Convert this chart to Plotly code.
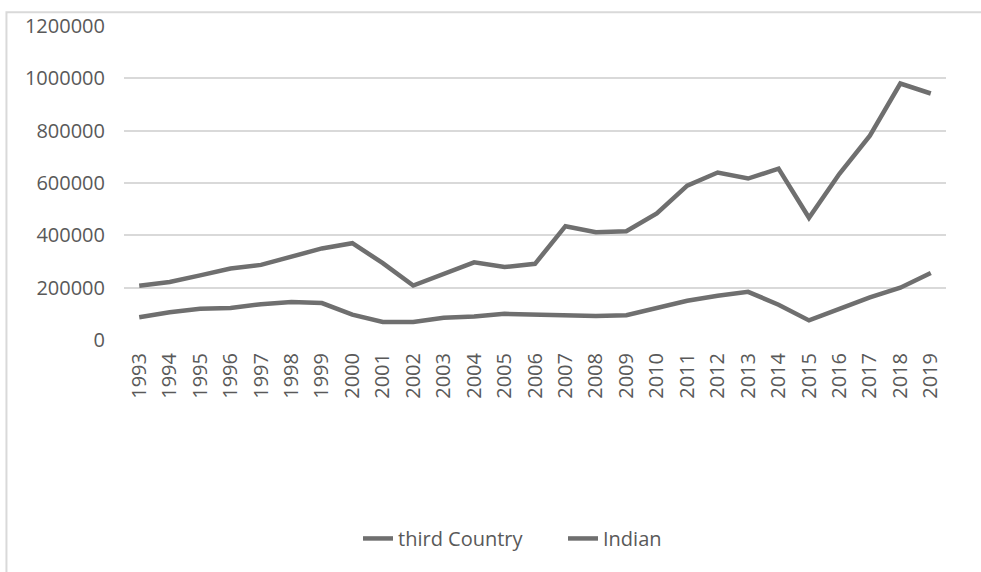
import plotly.graph_objects as go

years = [str(y) for y in range(1993, 2020)]
third_country = [207000, 222000, 247000, 273000, 287000, 319000, 350000, 370000, 294000, 208000,
                 252000, 297000, 279000, 291000, 435000, 412000, 416000, 484000, 590000, 640000,
                 617000, 655000, 467000, 635000, 781000, 980000, 942000]
indian = [87000, 106000, 119000, 122000, 137000, 145000, 141000, 97000, 69000, 69000,
          85000, 90000, 100000, 96000, 96000, 92000, 95000, 122000, 150000, 169000,
          184000, 135000, 75000, 119000, 163000, 200000, 256000]
y_ticks = [0, 200000, 400000, 600000, 800000, 1000000, 1200000]

line_color = "#6f6f6f"
text_color = "#595959"
font_family = "Open Sans"

fig = go.Figure()
fig.add_trace(go.Scatter(x=years, y=third_country, name="third Country", mode="lines",
                         line=dict(color=line_color, width=4.5)))
fig.add_trace(go.Scatter(x=years, y=indian, name="Indian", mode="lines",
                         line=dict(color=line_color, width=4.5)))

fig.update_layout(
    width=981, height=572,
    margin=dict(l=124, r=35, t=20, b=232),
    paper_bgcolor="white", plot_bgcolor="white",
    font=dict(family=font_family, size=20, color=text_color),
    showlegend=True,
    legend=dict(orientation="h", x=0.2847, xanchor="left", y=-0.632, yanchor="middle",
                font=dict(size=20, color=text_color), itemwidth=30,
                entrywidth=160, entrywidthmode="pixels",
                bgcolor="rgba(0,0,0,0)"),
    shapes=[dict(type="rect", xref="paper", yref="paper",
                 x0=-0.143, x1=1.2, y0=-1.0, y1=1.044,
                 line=dict(color="#d9d9d9", width=2), fillcolor="rgba(0,0,0,0)",
                 layer="below")],
)
fig.update_xaxes(type="category", range=[-0.5, 26.5], tickangle=-90, showgrid=False,
                 showline=False, ticks="", ticklabelstandoff=8,
                 tickfont=dict(size=20, color=text_color))
fig.update_yaxes(range=[0, 1200000], tickvals=y_ticks, tickformat="d",
                 showgrid=True, gridcolor="#d9d9d9", gridwidth=1.5, zeroline=False,
                 showline=False, ticks="", ticklabelstandoff=18,
                 tickfont=dict(size=20, color=text_color))

fig.write_html("out.html", config={"displayModeBar": False},
               post_script="document.body.style.margin='0';")
